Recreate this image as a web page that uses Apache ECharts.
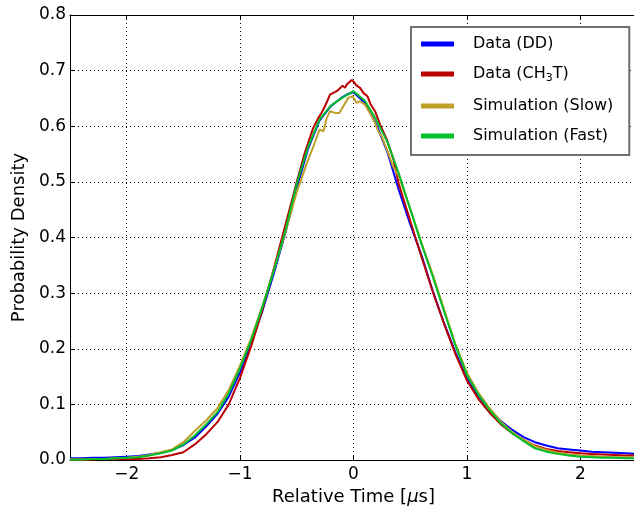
<!DOCTYPE html>
<html>
<head>
<meta charset="utf-8">
<script src="https://cdn.jsdelivr.net/npm/echarts@6.0.0/dist/echarts.min.js"></script>
<style>
  html, body { margin: 0; padding: 0; background: #fff; }
  #chart { width: 634px; height: 508px; }
</style>
</head>
<body>
<div id="chart"></div>
<script>
// values: [relative time (us), probability density]
var seriesNames = ['Data (DD)', 'Data (CH3T)', 'Simulation (Slow)', 'Simulation (Fast)'];
var seriesColors = ['#0000ff', '#bb0000', '#bf9f2c', '#00bf2a'];

var dataDD = [
    [-2.5,0.003],[-2.4,0.003],[-2.3,0.004],[-2.2,0.004],[-2.1,0.005],[-2.0,0.006],[-1.9,0.007],[-1.8,0.010],
    [-1.7,0.013],[-1.6,0.018],[-1.5,0.027],[-1.4,0.040],[-1.3,0.060],[-1.2,0.083],[-1.1,0.114],[-1.0,0.158],
    [-0.9,0.211],[-0.8,0.270],[-0.7,0.337],[-0.6,0.409],[-0.5,0.489],[-0.4,0.560],[-0.3,0.610],[-0.2,0.636],
    [-0.1,0.652],[-0.05,0.658],[0.0,0.661],[0.1,0.642],[0.2,0.604],[0.3,0.553],[0.4,0.485],[0.5,0.424],
    [0.6,0.368],[0.7,0.303],[0.8,0.245],[0.9,0.193],[1.0,0.147],[1.1,0.115],[1.2,0.090],[1.3,0.070],
    [1.4,0.054],[1.5,0.041],[1.6,0.032],[1.7,0.026],[1.8,0.021],[1.9,0.019],[2.0,0.017],[2.1,0.015],
    [2.2,0.014],[2.3,0.013],[2.4,0.012],[2.5,0.011]
];

var dataCH3T = [
    [-2.5,0.001],[-2.4,0.001],[-2.3,0.001],[-2.2,0.002],[-2.1,0.002],[-2.0,0.002],[-1.9,0.002],[-1.8,0.003],
    [-1.7,0.005],[-1.6,0.009],[-1.5,0.014],[-1.4,0.028],[-1.3,0.046],[-1.2,0.068],[-1.1,0.100],[-1.0,0.148],
    [-0.9,0.206],[-0.8,0.273],[-0.7,0.346],[-0.6,0.423],[-0.5,0.500],[-0.43,0.552],[-0.355,0.597],[-0.31,0.615],
    [-0.281,0.624],[-0.252,0.636],[-0.207,0.657],[-0.178,0.660],[-0.149,0.663],[-0.126,0.667],[-0.096,0.673],
    [-0.075,0.669],[-0.06,0.675],[-0.037,0.679],[-0.016,0.683],[0.005,0.679],[0.028,0.673],[0.058,0.669],
    [0.087,0.660],[0.123,0.654],[0.152,0.639],[0.19,0.627],[0.235,0.603],[0.294,0.576],[0.353,0.540],
    [0.397,0.498],[0.5,0.430],[0.6,0.365],[0.7,0.302],[0.8,0.244],[0.9,0.190],[1.0,0.143],[1.1,0.110],
    [1.2,0.085],[1.3,0.064],[1.4,0.048],[1.5,0.036],[1.6,0.026],[1.7,0.020],[1.8,0.016],[1.9,0.014],
    [2.0,0.012],[2.1,0.011],[2.2,0.010],[2.3,0.009],[2.4,0.008],[2.5,0.008]
];

var dataSlow = [
    [-2.5,0.001],[-2.4,0.001],[-2.3,0.002],[-2.2,0.002],[-2.1,0.003],[-2.0,0.004],[-1.9,0.006],[-1.8,0.009],
    [-1.7,0.014],[-1.6,0.019],[-1.5,0.032],[-1.4,0.052],[-1.3,0.071],[-1.2,0.093],[-1.1,0.126],[-1.0,0.170],
    [-0.9,0.220],[-0.8,0.279],[-0.7,0.343],[-0.6,0.410],[-0.5,0.482],[-0.4,0.540],[-0.353,0.564],[-0.3,0.594],
    [-0.265,0.591],[-0.236,0.615],[-0.206,0.627],[-0.163,0.624],[-0.125,0.624],[-0.09,0.636],[-0.046,0.651],
    [-0.007,0.654],[0.028,0.642],[0.057,0.645],[0.1,0.639],[0.145,0.624],[0.19,0.606],[0.218,0.591],
    [0.248,0.582],[0.3,0.555],[0.35,0.527],[0.4,0.510],[0.5,0.452],[0.6,0.390],[0.7,0.333],[0.8,0.270],
    [0.9,0.208],[1.0,0.157],[1.1,0.121],[1.2,0.093],[1.3,0.069],[1.4,0.050],[1.5,0.036],[1.6,0.025],
    [1.7,0.018],[1.8,0.013],[1.9,0.010],[2.0,0.008],[2.1,0.007],[2.2,0.006],[2.3,0.005],[2.4,0.005],[2.5,0.004]
];

var dataFast = [
    [-2.5,0.001],[-2.4,0.001],[-2.3,0.002],[-2.2,0.002],[-2.1,0.003],[-2.0,0.004],[-1.9,0.005],[-1.8,0.008],
    [-1.7,0.012],[-1.6,0.017],[-1.5,0.028],[-1.4,0.044],[-1.3,0.064],[-1.2,0.086],[-1.1,0.120],[-1.0,0.165],
    [-0.9,0.217],[-0.8,0.277],[-0.7,0.342],[-0.6,0.413],[-0.5,0.497],[-0.4,0.563],[-0.3,0.612],[-0.2,0.637],
    [-0.1,0.651],[0.0,0.663],[0.1,0.646],[0.2,0.612],[0.3,0.571],[0.4,0.515],[0.5,0.451],[0.6,0.388],
    [0.7,0.329],[0.8,0.266],[0.9,0.205],[1.0,0.153],[1.1,0.118],[1.2,0.090],[1.3,0.066],[1.4,0.048],
    [1.5,0.034],[1.6,0.021],[1.7,0.015],[1.8,0.011],[1.9,0.008],[2.0,0.006],[2.1,0.005],[2.2,0.004],
    [2.3,0.004],[2.4,0.003],[2.5,0.003]
];

var allData = [dataDD, dataCH3T, dataSlow, dataFast];

var FONT = 'DejaVu Sans';

var gridLine = { show: true, lineStyle: { color: '#000', width: 1, type: [1, 3] } };
var frameLine = { show: true, onZero: false, lineStyle: { color: '#000', width: 1 } };
var tickIn = { show: true, inside: true, length: 5, lineStyle: { color: '#000' } };

// integer x labels with a real minus sign, edge ticks left blank
function xLabel(v) {
    if (Math.abs(v - Math.round(v)) > 1e-6) return '';
    return v < 0 ? '\u2212' + Math.abs(v) : String(v);
}

var chart = echarts.init(document.getElementById('chart'), null, { renderer: 'canvas' });

var series = seriesNames.map(function(name, i) {
    return {
        name: name,
        type: 'line',
        data: allData[i],
        showSymbol: false,
        symbol: 'none',
        smooth: false,
        lineStyle: { color: seriesColors[i], width: 2 },
        itemStyle: { color: seriesColors[i] },
        z: 2 + i
    };
});

chart.setOption({
    animation: false,
    backgroundColor: '#fff',
    grid: { left: 70, top: 15, right: -3, bottom: 48, outerBoundsMode: 'none', containLabel: false },
    legend: {
        orient: 'vertical',
        left: 411,
        top: 27,
        padding: [9, 16, 11, 10],
        itemGap: 14,
        itemWidth: 33,
        itemHeight: 5,
        icon: 'rect',
        backgroundColor: '#fff',
        borderColor: '#707070',
        borderWidth: 2,
        borderRadius: 0,
        data: seriesNames,
        formatter: function(name) {
            if (name === 'Data (CH3T)') return 'Data (CH{sub|3}T)';
            return name;
        },
        textStyle: {
            fontFamily: FONT,
            fontSize: 16,
            color: '#000',
            padding: [0, 0, 0, 14],
            rich: {
                sub: { fontFamily: FONT, fontSize: 11, padding: [9, 0, 0, 0], color: '#000' }
            }
        }
    },
    xAxis: [{
        type: 'value',
        min: -2.5,
        max: 2.5,
        splitNumber: 5,
        position: 'bottom',
        name: 'Relative Time [{i|\u03bc}s]',
        nameLocation: 'middle',
        nameGap: 24,
        nameTextStyle: {
            fontFamily: FONT, fontSize: 18, color: '#000',
            rich: { i: { fontFamily: FONT, fontSize: 18, fontStyle: 'italic', color: '#000' } }
        },
        axisLine: frameLine,
        axisTick: tickIn,
        axisLabel: { fontFamily: FONT, fontSize: 17, color: '#000', margin: 6, formatter: xLabel },
        splitLine: gridLine
    }, {
        // top side of the frame
        type: 'value',
        min: -2.5,
        max: 2.5,
        splitNumber: 5,
        position: 'top',
        axisLine: frameLine,
        axisTick: tickIn,
        axisLabel: { show: false },
        splitLine: { show: false }
    }],
    yAxis: [{
        type: 'value',
        min: 0,
        max: 0.8,
        interval: 0.1,
        name: 'Probability Density',
        nameLocation: 'middle',
        nameGap: 42,
        nameTextStyle: { fontFamily: FONT, fontSize: 18, color: '#000' },
        axisLine: frameLine,
        axisTick: tickIn,
        axisLabel: {
            fontFamily: FONT, fontSize: 17, color: '#000', margin: 4,
            formatter: function(v) { return v.toFixed(1); }
        },
        splitLine: gridLine
    }],
    series: series
});
</script>
</body>
</html>
